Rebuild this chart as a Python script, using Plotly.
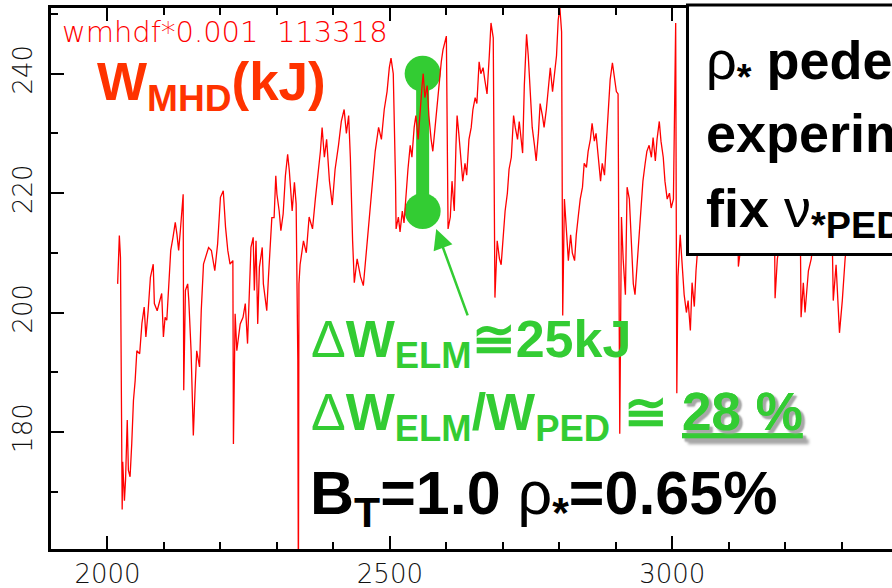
import plotly.graph_objects as go

# ---------------- data ----------------
time_ms = [2018, 2021, 2023, 2024, 2025, 2026, 2027, 2029, 2030, 2032, 2034, 2035, 2037, 2040,
           2043, 2046, 2049, 2052, 2057, 2061, 2065, 2068, 2072, 2076, 2081, 2083, 2088, 2092,
           2096, 2099, 2102, 2105, 2108, 2112, 2116, 2120, 2123, 2126, 2129, 2132, 2134, 2135,
           2138, 2142, 2144, 2148, 2151, 2152, 2155, 2158, 2163, 2166, 2170, 2174, 2179, 2184,
           2190, 2195, 2200, 2205, 2209, 2213, 2217, 2222, 2223, 2226, 2229, 2232, 2235, 2240,
           2244, 2248, 2252, 2254, 2258, 2260, 2263, 2266, 2269, 2274, 2276, 2279, 2282, 2285,
           2288, 2291, 2295, 2298, 2300, 2304, 2307, 2311, 2315, 2319, 2322, 2327, 2331, 2334,
           2337, 2338, 2339, 2341, 2347, 2352, 2357, 2363, 2368, 2373, 2377, 2380, 2384, 2388,
           2393, 2398, 2403, 2409, 2414, 2419, 2423, 2427, 2430, 2434, 2437, 2442, 2448, 2453,
           2458, 2464, 2469, 2474, 2480, 2485, 2490, 2495, 2499, 2502, 2506, 2508, 2510, 2511,
           2515, 2518, 2522, 2525, 2529, 2532, 2536, 2539, 2543, 2546, 2550, 2554, 2557, 2559,
           2562, 2566, 2569, 2573, 2576, 2580, 2584, 2587, 2591, 2594, 2598, 2600, 2603, 2607,
           2610, 2614, 2617, 2619, 2622, 2626, 2629, 2633, 2636, 2640, 2644, 2647, 2651, 2654,
           2658, 2661, 2665, 2668, 2672, 2676, 2679, 2683, 2686, 2690, 2694, 2697, 2701, 2704,
           2708, 2711, 2715, 2719, 2722, 2726, 2729, 2733, 2735, 2738, 2742, 2745, 2749, 2752,
           2756, 2759, 2763, 2766, 2770, 2773, 2777, 2781, 2784, 2788, 2791, 2795, 2798, 2801,
           2804, 2806, 2809, 2813, 2816, 2820, 2823, 2827, 2830, 2834, 2837, 2841, 2844, 2848,
           2851, 2855, 2858, 2862, 2865, 2869, 2873, 2876, 2880, 2883, 2887, 2890, 2894, 2897,
           2901, 2904, 2907, 2910, 2913, 2917, 2920, 2924, 2927, 2931, 2934, 2938, 2941, 2945,
           2948, 2952, 2955, 2959, 2963, 2966, 2970, 2973, 2977, 2980, 2984, 2987, 2991, 2995,
           2998, 3002, 3006, 3008, 3010, 3014, 3017, 3021, 3025, 3028, 3032, 3035, 3039, 3042,
           3046, 3053, 3064, 3074, 3085, 3096, 3106, 3113, 3117, 3120, 3126, 3138, 3150, 3163,
           3173, 3179, 3182, 3186, 3195, 3205, 3216, 3225, 3228, 3232, 3235, 3241, 3246, 3250,
           3258, 3269, 3280, 3285, 3290, 3296, 3301, 3306, 3311, 3318]

wmhd_kj = [204.8, 212.9, 209.2, 192.5, 178.0, 167.0, 175.0, 171.8, 168.5, 172.0, 180.0, 182.0, 173.6, 172.5,
           178.1, 185.3, 188.6, 193.6, 193.1, 198.2, 200.9, 195.9, 200.3, 205.9, 208.1, 201.5, 200.3, 202.0,
           203.2, 195.9, 199.2, 198.7, 203.7, 210.4, 212.6, 215.1, 213.1, 210.4, 213.7, 218.2, 219.8, 187.0,
           203.7, 204.8, 202.0, 193.6, 181.4, 179.4, 187.0, 193.6, 190.9, 200.3, 208.1, 209.2, 210.9, 210.4,
           207.0, 211.5, 219.3, 220.4, 214.3, 210.4, 208.1, 208.7, 178.0, 199.8, 193.6, 195.9, 198.1, 199.2,
           201.5, 194.8, 204.8, 210.9, 212.6, 203.7, 212.0, 198.1, 207.6, 210.9, 204.8, 202.6, 200.3, 205.9,
           212.0, 215.9, 215.9, 222.9, 219.8, 217.0, 213.7, 216.5, 222.9, 226.5, 223.7, 217.0, 221.8, 218.2,
           192.0, 150.0, 204.8, 208.0, 212.0, 210.0, 216.0, 214.0, 219.0, 223.0, 227.0, 231.0, 226.0, 229.0,
           222.0, 218.0, 224.0, 228.0, 232.0, 234.0, 230.0, 233.0, 226.0, 212.0, 205.0, 209.0, 206.0, 204.5,
           210.0, 216.0, 222.0, 227.0, 231.0, 229.0, 234.0, 237.0, 241.0, 242.6, 240.0, 232.0, 222.0, 214.0,
           216.0, 213.5, 217.0, 215.0, 221.0, 224.0, 228.0, 226.0, 231.0, 233.0, 229.0, 235.0, 238.0, 240.0,
           236.0, 238.0, 233.0, 229.0, 227.0, 231.0, 235.0, 239.0, 242.0, 244.0, 245.5, 246.3, 214.0, 216.0,
           222.0, 217.0, 228.0, 233.0, 230.0, 226.0, 222.0, 225.0, 223.0, 229.0, 231.0, 234.0, 236.0, 235.0,
           242.0, 240.0, 241.0, 239.0, 236.6, 243.0, 248.5, 246.0, 202.5, 212.0, 209.0, 208.0, 213.0, 217.0,
           220.0, 224.0, 226.0, 233.0, 231.0, 229.0, 232.0, 228.7, 226.7, 238.0, 246.6, 243.0, 235.0, 231.0,
           228.0, 225.4, 230.0, 235.0, 233.0, 231.0, 234.0, 238.0, 241.0, 237.0, 240.0, 243.0, 249.0, 251.0,
           247.0, 199.5, 219.0, 214.0, 208.7, 213.0, 210.0, 208.7, 213.0, 216.5, 219.0, 221.0, 225.0, 224.3,
           227.0, 229.0, 231.7, 228.7, 230.0, 226.0, 222.0, 225.0, 223.0, 228.0, 235.0, 239.0, 241.8, 240.0,
           237.0, 236.6, 179.7, 216.0, 209.0, 203.0, 221.0, 219.0, 212.0, 204.8, 203.0, 208.0, 213.0, 218.0,
           222.0, 225.0, 227.0, 228.0, 226.0, 229.3, 225.4, 229.0, 232.0, 228.7, 226.0, 222.0, 219.0, 220.0,
           217.5, 219.0, 248.5, 186.5, 206.0, 213.0, 208.0, 203.0, 200.0, 202.0, 197.0, 205.0, 201.0, 207.0,
           212.0, 215.0, 220.0, 226.0, 224.0, 231.0, 236.0, 238.0, 207.7, 210.0, 214.0, 220.0, 226.0, 230.0,
           235.0, 237.0, 202.4, 209.0, 214.0, 222.0, 228.0, 232.0, 199.2, 205.0, 200.0, 207.0, 209.0, 212.0,
           220.0, 226.0, 231.0, 202.0, 208.0, 196.6, 202.0, 209.0, 214.0, 220.0]

elm_time = [2558, 2558]          # green ELM drop marker
elm_w = [240, 217]
arrow_tip = (2582, 214.0)

x_range = [1900, 3389]
y_range = [160.4, 251.0]
x_major = [2000, 2500, 3000]
y_major = [180, 200, 220, 240]

RED = "#ff0000"
ORANGE = "#ff3300"
GREEN = "#33cc33"
BOLD = "Liberation Sans, Arial, sans-serif"
THIN = "DejaVu Sans, sans-serif"

# ---------------- geometry helpers (pixels -> paper) ----------------
ML, MR, MT, MB = 51, 0, 8, 39
W, H = 892, 588
PW, PH = W - ML - MR, H - MT - MB


def pxx(x):
    return (x - ML) / PW


def pxy(y):
    return (H - MB - y) / PH


fig = go.Figure()

fig.add_trace(go.Scatter(x=elm_time, y=elm_w, mode="lines+markers",
                         line=dict(color=GREEN, width=13),
                         marker=dict(color=GREEN, size=36),
                         hoverinfo="skip", showlegend=False))

fig.add_trace(go.Scatter(x=time_ms, y=wmhd_kj, mode="lines",
                         line=dict(color=RED, width=1.3),
                         showlegend=False))

axis_common = dict(showgrid=False, zeroline=False, showline=True, linecolor="black",
                   linewidth=2.5, ticks="inside", tickcolor="black", tickwidth=2,
                   ticklen=13, automargin=False)

fig.update_xaxes(range=x_range, tickvals=x_major, ticktext=[str(v) for v in x_major],
                 mirror="ticks",
                 minor=dict(dtick=100, tick0=1900, ticks="inside", ticklen=7,
                            tickwidth=2, tickcolor="black"),
                 tickfont=dict(family=THIN, size=26, color="#111", weight=200),
                 ticklabelstandoff=0,
                 **axis_common)

fig.update_yaxes(range=y_range, tickvals=y_major, ticktext=[str(v) for v in y_major],
                 tickangle=-90,
                 minor=dict(dtick=10, tick0=160, ticks="inside", ticklen=7,
                            tickwidth=2, tickcolor="black"),
                 tickfont=dict(family=THIN, size=26, color="#111", weight=200),
                 ticklabelstandoff=6,
                 **axis_common)

# right-hand tick stubs (the right frame itself lies just outside the picture)
fig.update_layout(yaxis2=dict(overlaying="y", side="right", range=y_range,
                              tickvals=y_major, showticklabels=False, showgrid=False,
                              zeroline=False, showline=False, ticks="inside",
                              ticklen=8, tickwidth=2, tickcolor="black", automargin=False,
                              minor=dict(dtick=10, tick0=160, ticks="inside", ticklen=2,
                                         tickwidth=2, tickcolor="black")))

# white info box at the upper right (runs off the picture)
fig.add_shape(type="rect", xref="paper", yref="paper",
              x0=pxx(687.5), x1=pxx(1000), y0=pxy(254.5), y1=pxy(5),
              line=dict(color="black", width=3), fillcolor="white", layer="above")

ann = []


def txt(text, x, yc, size, color, family=BOLD, weight=None, shadow=None):
    f = dict(family=family, size=size, color=color)
    if weight is not None:
        f["weight"] = weight
    if shadow is not None:
        f["shadow"] = shadow
    ann.append(dict(text=text, xref="paper", yref="paper", x=pxx(x), y=pxy(yc),
                    xanchor="left", yanchor="middle", showarrow=False,
                    font=f, borderpad=0, align="left"))


txt("wmhdf*0.001\u00a0 113318", 61, 32, 29, RED, family=THIN, weight=200)
txt("<b>W<sub>MHD</sub>(kJ)</b>", 96, 85, 53, ORANGE)

txt("Δ<b>W<sub>ELM</sub>≅25kJ</b>", 310, 343, 52, GREEN)
txt("Δ<b>W<sub>ELM</sub>/W<sub>PED</sub></b> <b>≅</b>", 310, 416, 52, GREEN)
txt("<b><u>28 %</u></b>", 681, 411, 53, GREEN, shadow="3px 3px 2px #a8a8a8")

txt("<b>B<sub>T</sub>=1.0 </b>ρ<b><sub>*</sub>=0.65%</b>", 309, 497, 61, "black")

txt("ρ<b><sub>*</sub> pedestal scan</b>", 705, 64, 54, "black")
txt("<b>experiment</b>", 705, 133, 54, "black")
txt("<b>fix </b>ν<b><sub>*PED</sub></b>", 705, 212, 54, "black")

# arrow from the text to the lower ELM point
ann.append(dict(x=arrow_tip[0], y=arrow_tip[1], xref="x", yref="y", ax=32, ay=88,
                axref="pixel", ayref="pixel", text="", showarrow=True,
                arrowhead=2, arrowsize=1.6, arrowwidth=2.5, arrowcolor=GREEN, standoff=0))

fig.update_layout(width=W, height=H, margin=dict(l=ML, r=MR, t=MT, b=MB),
                  paper_bgcolor="white", plot_bgcolor="white",
                  annotations=ann, showlegend=False)

fig.write_html("out.html")
